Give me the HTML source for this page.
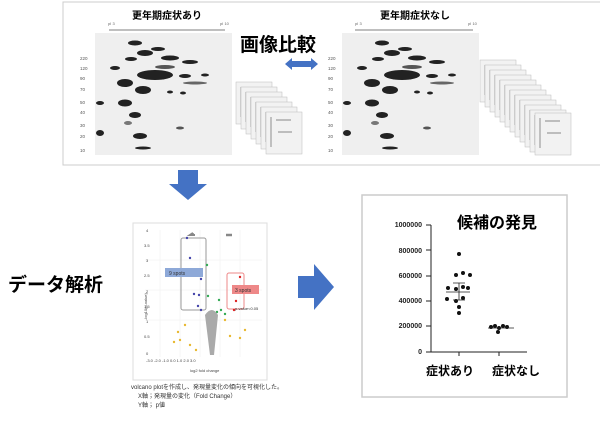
<!DOCTYPE html>
<html><head><meta charset="utf-8"><style>
body{margin:0;width:600px;height:417px;background:#fff;overflow:hidden;font-family:"Liberation Sans","Noto Sans CJK JP",sans-serif}
</style></head><body>
<svg width="600" height="417" viewBox="0 0 600 417" xmlns="http://www.w3.org/2000/svg" font-family="Liberation Sans, Noto Sans CJK JP, sans-serif">
<defs>
<g id="gel">
<rect x="0" y="0" width="137" height="122" fill="#efefef"/>
<g fill="#222">
<ellipse cx="40" cy="10" rx="7" ry="2.5"/><ellipse cx="50" cy="20" rx="8" ry="3"/><ellipse cx="63" cy="16" rx="7" ry="2"/>
<ellipse cx="36" cy="26" rx="6" ry="2"/><ellipse cx="75" cy="25" rx="9" ry="2.5"/><ellipse cx="95" cy="29" rx="8" ry="2"/>
<ellipse cx="20" cy="35" rx="5" ry="2"/><ellipse cx="60" cy="42" rx="18" ry="5"/><ellipse cx="30" cy="50" rx="8" ry="4"/>
<ellipse cx="48" cy="57" rx="8" ry="4"/><ellipse cx="30" cy="70" rx="7" ry="3.5"/><ellipse cx="40" cy="82" rx="6" ry="3"/>
<ellipse cx="45" cy="103" rx="7" ry="3"/><ellipse cx="48" cy="115" rx="8" ry="1.5"/><ellipse cx="90" cy="43" rx="6" ry="2"/>
<ellipse cx="75" cy="59" rx="3" ry="1.5"/><ellipse cx="88" cy="60" rx="3" ry="1.5"/><ellipse cx="110" cy="42" rx="4" ry="1.5"/>
<ellipse cx="5" cy="70" rx="4" ry="2"/><ellipse cx="5" cy="100" rx="4" ry="3"/><ellipse cx="33" cy="90" rx="4" ry="2" fill="#777"/>
<ellipse cx="70" cy="34" rx="10" ry="2" fill="#555"/><ellipse cx="100" cy="50" rx="12" ry="1.5" fill="#666"/><ellipse cx="85" cy="95" rx="4" ry="1.5" fill="#555"/>
</g></g>
<g id="mini"><rect width="36" height="42" fill="#f2f2f2" stroke="#bbb" stroke-width="0.5"/><path d="M5 5v30M10 8h15M12 20h14" stroke="#666" stroke-width="0.7"/></g>
</defs>
<rect x="63" y="2" width="540" height="163" fill="#fff" stroke="#ccc" stroke-width="1"/>
<text x="167" y="19" font-size="10" font-weight="bold" text-anchor="middle">更年期症状あり</text>
<text x="415" y="19" font-size="10" font-weight="bold" text-anchor="middle">更年期症状なし</text>
<line x1="109" y1="30" x2="225" y2="30" stroke="#555" stroke-width="0.7"/>
<line x1="355" y1="30" x2="473" y2="30" stroke="#555" stroke-width="0.7"/>
<text x="108" y="25" font-size="4" fill="#666">pI 3</text><text x="220" y="25" font-size="4" fill="#666">pI 10</text>
<text x="355" y="25" font-size="4" fill="#666">pI 3</text><text x="468" y="25" font-size="4" fill="#666">pI 10</text>
<g font-size="4.5" fill="#555"><text x="80" y="60">220</text><text x="80" y="70">120</text><text x="80" y="80">90</text><text x="80" y="91">70</text><text x="80" y="104">50</text><text x="80" y="114">40</text><text x="80" y="127">30</text><text x="80" y="138">20</text><text x="80" y="152">10</text></g>
<g font-size="4.5" fill="#555"><text x="328" y="60">220</text><text x="328" y="70">120</text><text x="328" y="80">90</text><text x="328" y="91">70</text><text x="328" y="104">50</text><text x="328" y="114">40</text><text x="328" y="127">30</text><text x="328" y="138">20</text><text x="328" y="152">10</text></g>
<use href="#gel" x="95" y="33"/><use href="#gel" x="342" y="33"/>
<g><use href="#mini" x="236" y="82"/><use href="#mini" x="241" y="87"/><use href="#mini" x="246" y="92"/><use href="#mini" x="251" y="97"/><use href="#mini" x="256" y="102"/><use href="#mini" x="261" y="107"/><use href="#mini" x="266" y="112"/></g>
<g><use href="#mini" x="480" y="60"/><use href="#mini" x="485" y="65"/><use href="#mini" x="490" y="70"/><use href="#mini" x="495" y="75"/><use href="#mini" x="500" y="80"/><use href="#mini" x="505" y="85"/><use href="#mini" x="510" y="90"/><use href="#mini" x="515" y="95"/><use href="#mini" x="520" y="100"/><use href="#mini" x="525" y="105"/><use href="#mini" x="530" y="110"/><use href="#mini" x="535" y="113"/></g>
<text x="240" y="51" font-size="19" font-weight="bold">画像比較</text>
<path d="M285 64l7-6v3h19v-3l7 6-7 6v-3h-19v3z" fill="#4472c4"/>
<path d="M178 170h20v14h9l-19 16-19-16h9z" fill="#4472c4"/>
<text x="8" y="291" font-size="19" font-weight="bold">データ解析</text>
<path d="M298 276h16v-12l20 23-20 23v-12h-16z" fill="#4472c4"/>
<!-- volcano -->
<rect x="133" y="223" width="134" height="157" fill="#fff" stroke="#ddd"/>
<g stroke="#eee" stroke-width="0.5"><line x1="160" y1="230" x2="160" y2="357"/><line x1="180" y1="230" x2="180" y2="357"/><line x1="200" y1="230" x2="200" y2="357"/><line x1="220" y1="230" x2="220" y2="357"/><line x1="240" y1="230" x2="240" y2="357"/><line x1="145" y1="260" x2="262" y2="260"/><line x1="145" y1="290" x2="262" y2="290"/><line x1="145" y1="320" x2="262" y2="320"/></g>
<g font-size="4" fill="#444"><text x="146" y="232">4</text><text x="144" y="247">3.5</text><text x="146" y="262">3</text><text x="144" y="277">2.5</text><text x="146" y="293">2</text><text x="144" y="308">1.5</text><text x="146" y="323">1</text><text x="144" y="338">0.5</text><text x="146" y="355">0</text></g>
<text x="0" y="0" font-size="4" fill="#444" transform="translate(147,320) rotate(-90)">-log10(p-value)</text>
<path d="M195 235h-5l3-2M200 235h0" stroke="#888" stroke-width="2"/>
<path d="M226 235h6" stroke="#888" stroke-width="2.5"/>
<rect x="181" y="238" width="25" height="72" fill="none" stroke="#999" rx="2"/>
<rect x="227" y="273" width="17" height="36" fill="none" stroke="#e88" rx="2"/>
<rect x="165" y="268" width="38" height="9" fill="#8ea9d8"/><text x="169" y="275" font-size="5" fill="#333">9 spots</text>
<rect x="232" y="285" width="27" height="9" fill="#e88"/><text x="235" y="292" font-size="5" fill="#333">3 spots</text>
<text x="235" y="310" font-size="4" fill="#333">p-value&lt;0.05</text>
<g fill="#44a">
<circle cx="187" cy="238" r="1.2"/><circle cx="190" cy="258" r="1.2"/><circle cx="201" cy="279" r="1.2"/><circle cx="194" cy="294" r="1.2"/><circle cx="199" cy="295" r="1.2"/><circle cx="198" cy="306" r="1.2"/><circle cx="201" cy="310" r="1.2"/></g>
<g fill="#3a5"><circle cx="207" cy="265" r="1.2"/><circle cx="208" cy="296" r="1.2"/><circle cx="219" cy="300" r="1.2"/><circle cx="221" cy="310" r="1.2"/><circle cx="225" cy="314" r="1.2"/><circle cx="217" cy="312" r="1.2"/></g>
<g fill="#d22"><circle cx="240" cy="277" r="1.2"/><circle cx="236" cy="301" r="1.2"/><circle cx="234" cy="310" r="1.2"/></g>
<g fill="#e8b830"><circle cx="185" cy="325" r="1.2"/><circle cx="180" cy="340" r="1.2"/><circle cx="190" cy="345" r="1.2"/><circle cx="178" cy="332" r="1.2"/><circle cx="196" cy="350" r="1.2"/><circle cx="230" cy="336" r="1.2"/><circle cx="240" cy="338" r="1.2"/><circle cx="245" cy="330" r="1.2"/><circle cx="225" cy="320" r="1.2"/><circle cx="174" cy="342" r="1.2"/></g>
<path d="M205 315 Q212 305 218 315 L214 355 L210 355 Z" fill="#aaa"/>
<g font-size="4" fill="#444"><text x="146" y="362">-3.0 -2.0 -1.0 0.0 1.0 2.0 3.0</text><text x="190" y="372">log2 fold change</text></g>
<text x="131" y="389" font-size="6" fill="#333">volcano plotを作成し、発現量変化の傾向を可視化した。</text>
<text x="138" y="398" font-size="6" fill="#333">X軸；発現量の変化（Fold Change）</text>
<text x="138" y="407" font-size="6" fill="#333">Y軸； p値</text>
<!-- candidate -->
<rect x="362" y="195" width="205" height="202" fill="#fff" stroke="#ccc" stroke-width="1.5"/>
<text x="457" y="228" font-size="16" font-weight="bold">候補の発見</text>
<g font-size="7" font-weight="bold" fill="#222" text-anchor="end"><text x="422" y="227">1000000</text><text x="422" y="253">800000</text><text x="422" y="278">600000</text><text x="422" y="303">400000</text><text x="422" y="328">200000</text><text x="422" y="354">0</text></g>
<path d="M431 225v127h96M426 225h5M426 250h5M426 276h5M426 301h5M426 326h5M426 352h5M459 352v4M499 352v4" stroke="#222" stroke-width="1" fill="none"/>
<g fill="#111"><circle cx="459" cy="254" r="2"/><circle cx="456" cy="275" r="2"/><circle cx="463" cy="273" r="2"/><circle cx="470" cy="275" r="2"/><circle cx="448" cy="288" r="2"/><circle cx="456" cy="289" r="2"/><circle cx="463" cy="287" r="2"/><circle cx="468" cy="288" r="2"/><circle cx="447" cy="299" r="2"/><circle cx="456" cy="301" r="2"/><circle cx="463" cy="298" r="2"/><circle cx="459" cy="307" r="2"/><circle cx="459" cy="313" r="2"/></g>
<path d="M446 292h24M453 283h12M453 300h12M459 283v17" stroke="#222" stroke-width="0.8"/>
<g fill="#111"><circle cx="491" cy="327" r="2"/><circle cx="495" cy="326" r="2"/><circle cx="499" cy="328" r="2"/><circle cx="503" cy="326" r="2"/><circle cx="507" cy="327" r="2"/><circle cx="498" cy="332" r="2"/></g>
<path d="M488 328h26" stroke="#222" stroke-width="0.8"/>
<text x="450" y="375" font-size="12" font-weight="bold" text-anchor="middle">症状あり</text>
<text x="516" y="375" font-size="12" font-weight="bold" text-anchor="middle">症状なし</text>
</svg>
</body></html>
